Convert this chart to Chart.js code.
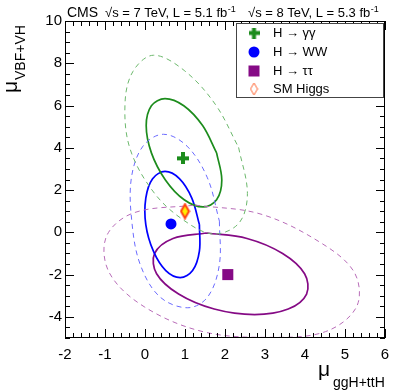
<!DOCTYPE html>
<html>
<head>
<meta charset="utf-8">
<script src="https://cdn.jsdelivr.net/npm/chart.js@4.4.1/dist/chart.umd.min.js"></script>
<style>
  html, body { margin: 0; padding: 0; background: #fff; }
</style>
</head>
<body>
<canvas id="muChart" width="407" height="391"></canvas>
<script>
// contour points, as [mu_ggH+ttH, mu_VBF+VH]
// (each loop starts on a flat side so the join is not seen)
var ggSolid = [[1.79,3.76],[1.92,2.48],[1.79,1.54],[1.45,1.20],[0.98,1.54],[0.51,2.48],[0.16,3.76],[0.03,5.05],[0.16,5.99],[0.50,6.33],[0.97,5.99],[1.44,5.05],[1.79,3.76]];
var ggDashed = [[2.34,4.02],[2.56,1.84],[2.35,0.44],[1.72,-0.08],[1.00,0.53],[0.24,1.84],[-0.37,3.93],[-0.50,6.10],[-0.30,7.62],[0.21,8.38],[0.98,7.66],[1.76,6.05],[2.34,4.02]];
var wwSolid = [[1.36,0.37],[1.36,-0.89],[1.19,-1.81],[0.88,-2.14],[0.52,-1.81],[0.21,-0.89],[0.02,0.37],[0.02,1.62],[0.19,2.54],[0.50,2.88],[0.86,2.54],[1.17,1.62],[1.36,0.37]];
var wwDashed = [[1.86,0.53],[1.86,-1.52],[1.57,-3.05],[1.07,-3.57],[0.37,-3.05],[-0.12,-1.52],[-0.33,0.53],[-0.34,2.58],[-0.05,4.08],[0.46,4.64],[1.05,4.08],[1.56,2.58],[1.86,0.53]];
var ttSolid = [[1.54,-0.03],[2.55,-0.29],[3.44,-1.00],[3.99,-1.96],[4.04,-2.92],[3.58,-3.63],[2.74,-3.89],[1.73,-3.63],[0.84,-2.92],[0.29,-1.96],[0.24,-1.00],[0.70,-0.29],[1.54,-0.03]];
var ttDashed = [[1.25,1.29],[2.90,0.86],[4.40,-0.50],[5.24,-1.92],[5.29,-3.52],[4.51,-4.70],[3.10,-4.97],[1.45,-4.70],[-0.02,-3.52],[-0.89,-1.92],[-0.97,-0.22],[-0.30,0.91],[1.25,1.29]];

// best fit points
var ggBest = [0.95, 3.5];
var wwBest = [0.65, 0.4];
var ttBest = [2.07, -2.0];
var smPoint = [1, 1];

var legendNames = ['H \u2192 \u03b3\u03b3', 'H \u2192 WW', 'H \u2192 \u03c4\u03c4', 'SM Higgs'];
var xTickLabels = [-2, -1, 0, 1, 2, 3, 4, 5, 6];
var yTickLabels = [-4, -2, 0, 2, 4, 6, 8, 10];

var FONT = '"Liberation Sans", Arial, sans-serif';
var GREEN = '#1c8c1c', BLUE = '#0000ff', PURPLE = '#850a85';

function pts(arr) {
    return arr.map(function (p) { return { x: p[0], y: p[1] }; });
}

function crossImg(color, size, thick) {
    var c = document.createElement('canvas');
    c.width = size; c.height = size;
    var g = c.getContext('2d');
    g.fillStyle = color;
    var o = (size - thick) / 2;
    g.fillRect(o, 0, thick, size);
    g.fillRect(0, o, size, thick);
    return c;
}

function diamondImg(w, h, fill, stroke, lw) {
    var c = document.createElement('canvas');
    c.width = w; c.height = h;
    var g = c.getContext('2d');
    var m = lw / 2 + 0.5;
    g.beginPath();
    g.moveTo(w / 2, m); g.lineTo(w - m, h / 2); g.lineTo(w / 2, h - m); g.lineTo(m, h / 2);
    g.closePath();
    if (fill) { g.fillStyle = fill; g.fill(); }
    g.strokeStyle = stroke; g.lineWidth = lw; g.stroke();
    return c;
}

var crossMark = crossImg(GREEN, 12, 4);
var smMark = diamondImg(11, 17, '#ffee00', '#ff4010', 2);
var smLegendMark = diamondImg(9, 14, null, '#ff6633', 1);

function contour(arr, color, dashed) {
    return {
        data: pts(arr),
        showLine: true,
        borderColor: color,
        borderWidth: dashed ? 1 : 1.7,
        borderDash: dashed ? [5, 4] : [],
        pointRadius: 0,
        tension: 0.35,
        fill: false,
        order: 2
    };
}

function isMajor(v, list) {
    var r = Math.round(v);
    return Math.abs(v - r) < 1e-6 && list.indexOf(r) >= 0;
}

function textSup(ctx, x, y, base, sup, size) {
    ctx.font = size + 'px ' + FONT;
    ctx.fillText(base, x, y);
    var w = ctx.measureText(base).width;
    ctx.font = Math.round(size * 0.7) + 'px ' + FONT;
    ctx.fillText(sup, x + w + 0.5, y - size * 0.42);
}

var decorations = {
    id: 'decorations',
    afterDraw: function (chart) {
        var ctx = chart.ctx, a = chart.chartArea;
        var xs = chart.scales.x, ys = chart.scales.y;
        ctx.save();

        // frame and inward ticks on all four sides
        ctx.strokeStyle = '#000';
        ctx.lineWidth = 1;
        ctx.beginPath();
        xs.ticks.forEach(function (t) {
            var px = Math.round(xs.getPixelForValue(t.value)) + 0.5;
            var len = isMajor(t.value, xTickLabels) ? 9 : 5;
            ctx.moveTo(px, a.bottom); ctx.lineTo(px, a.bottom - len);
            ctx.moveTo(px, a.top); ctx.lineTo(px, a.top + len);
        });
        ys.ticks.forEach(function (t) {
            var py = Math.round(ys.getPixelForValue(t.value)) + 0.5;
            var len = isMajor(t.value, yTickLabels) ? 9 : 5;
            ctx.moveTo(a.left, py); ctx.lineTo(a.left + len, py);
            ctx.moveTo(a.right, py); ctx.lineTo(a.right - len, py);
        });
        ctx.stroke();
        ctx.strokeRect(a.left + 0.5, a.top + 0.5, a.width - 1, a.height - 1);

        // header
        ctx.fillStyle = '#000';
        ctx.textBaseline = 'alphabetic';
        ctx.textAlign = 'left';
        ctx.font = '14px ' + FONT;
        ctx.fillText('CMS', 67, 17);
        textSup(ctx, 105, 17, '\u221as = 7 TeV, L = 5.1 fb', '-1', 13);
        textSup(ctx, 248, 17, '\u221as = 8 TeV, L = 5.3 fb', '-1', 13);

        // x title
        ctx.font = '21px ' + FONT;
        ctx.fillText('\u03bc', 318, 376);
        ctx.font = '14px ' + FONT;
        ctx.fillText('ggH+ttH', 333, 387);

        // y title
        ctx.save();
        ctx.translate(17, 93);
        ctx.rotate(-Math.PI / 2);
        ctx.font = '21px ' + FONT;
        ctx.fillText('\u03bc', 0, 0);
        ctx.font = '14px ' + FONT;
        ctx.fillText('VBF+VH', 13, 8);
        ctx.restore();

        // legend
        var lx = 236, ly = 23, lw = 147, lh = 74;
        ctx.fillStyle = '#fff';
        ctx.fillRect(lx, ly, lw, lh);
        ctx.strokeStyle = '#444';
        ctx.strokeRect(lx + 0.5, ly + 0.5, lw, lh);
        var rows = [33, 52, 71, 89];
        var mx = 254;
        ctx.drawImage(crossImg(GREEN, 11, 4), mx - 5.5, rows[0] - 5.5);
        ctx.fillStyle = BLUE;
        ctx.beginPath(); ctx.arc(mx, rows[1], 5.5, 0, Math.PI * 2); ctx.fill();
        ctx.fillStyle = PURPLE;
        ctx.fillRect(mx - 5.5, rows[2] - 5.5, 11, 11);
        ctx.drawImage(smLegendMark, mx - 4.5, rows[3] - 7);
        ctx.fillStyle = '#000';
        ctx.font = '13px ' + FONT;
        ctx.textBaseline = 'middle';
        legendNames.forEach(function (n, i) { ctx.fillText(n, 273, rows[i]); });

        ctx.restore();
    }
};

var ctxMu = document.getElementById('muChart').getContext('2d');
var muChart = new Chart(ctxMu, {
    type: 'scatter',
    data: {
        datasets: [
            contour(ggDashed, '#6cb86c', true),
            contour(wwDashed, '#6b6bff', true),
            contour(ttDashed, '#b86cb8', true),
            contour(ggSolid, GREEN, false),
            contour(wwSolid, BLUE, false),
            contour(ttSolid, PURPLE, false),
            {
                data: pts([ggBest]),
                pointStyle: crossMark,
                order: 1
            },
            {
                data: pts([wwBest]),
                pointStyle: 'circle',
                pointRadius: 5.5,
                backgroundColor: BLUE,
                borderWidth: 0,
                order: 1
            },
            {
                data: pts([ttBest]),
                pointStyle: 'rect',
                pointRadius: 7.8,
                backgroundColor: PURPLE,
                borderWidth: 0,
                order: 1
            },
            {
                data: pts([smPoint]),
                pointStyle: smMark,
                order: 0
            }
        ]
    },
    options: {
        responsive: false,
        animation: false,
        events: [],
        layout: { padding: { top: 21, right: 22, left: 0, bottom: 0 } },
        plugins: {
            legend: { display: false },
            tooltip: { enabled: false }
        },
        scales: {
            x: {
                type: 'linear',
                min: -2,
                max: 6,
                grid: { display: false, drawTicks: false },
                border: { display: false },
                afterFit: function (scale) { scale.height = 53; },
                ticks: {
                    stepSize: 0.2,
                    autoSkip: false,
                    maxRotation: 0,
                    padding: 8,
                    color: '#000',
                    font: { family: FONT, size: 15 },
                    callback: function (v) {
                        return isMajor(v, xTickLabels) ? String(Math.round(v)) : '';
                    }
                }
            },
            y: {
                type: 'linear',
                min: -5,
                max: 10,
                grid: { display: false, drawTicks: false },
                border: { display: false },
                afterFit: function (scale) { scale.width = 65; },
                ticks: {
                    stepSize: 0.5,
                    autoSkip: false,
                    padding: 3,
                    color: '#000',
                    font: { family: FONT, size: 15 },
                    callback: function (v) {
                        return isMajor(v, yTickLabels) ? String(Math.round(v)) : '';
                    }
                }
            }
        }
    },
    plugins: [decorations]
});
</script>
</body>
</html>
